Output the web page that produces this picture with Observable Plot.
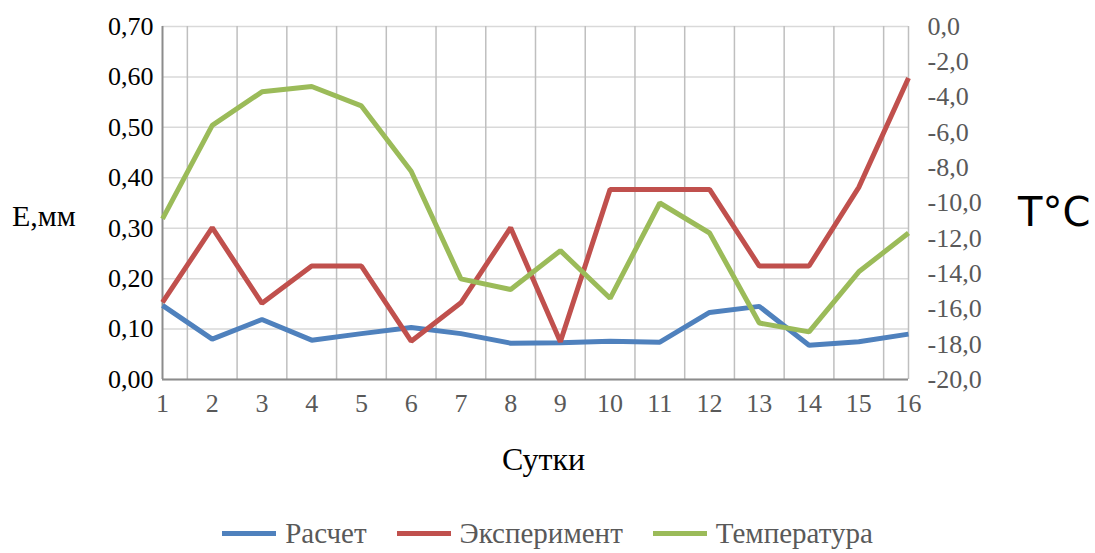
<!DOCTYPE html>
<html>
<head>
<meta charset="utf-8">
<script src="https://cdn.jsdelivr.net/npm/d3@7"></script>
<script src="https://cdn.jsdelivr.net/npm/@observablehq/plot@0.6"></script>
<style>
  html, body { margin: 0; padding: 0; background: #fff; }
  #wrap { position: relative; width: 1095px; height: 553px; overflow: hidden; }
  .lbl { position: absolute; white-space: nowrap; line-height: 1; }
  #legend { position: absolute; left: 0; top: 516px; width: 1095px; display: flex; justify-content: center; gap: 30px;
            font-family: "Liberation Serif", serif; font-size: 29px; line-height: 34px; color: #595959; }
  #legend .item { display: flex; align-items: center; }
  #legend .sw { width: 54px; height: 5px; margin-right: 9px; }
</style>
</head>
<body>
<div id="wrap">
  <div id="chart"></div>
  <div class="lbl" style="left:12px; top:201px; font-family:'Liberation Serif',serif; font-size:30px; color:#000;">E,мм</div>
  <div class="lbl" style="left:1018px; top:192px; font-family:'DejaVu Sans',sans-serif; font-size:40px; color:#000;">T°C</div>
  <div class="lbl" style="left:502px; top:443px; font-family:'Liberation Serif',serif; font-size:32px; color:#000;">Сутки</div>
  <div id="legend"></div>
</div>
<script>
const days = [1, 2, 3, 4, 5, 6, 7, 8, 9, 10, 11, 12, 13, 14, 15, 16];
const raschet = [0.147, 0.080, 0.119, 0.078, 0.091, 0.103, 0.091, 0.072, 0.073, 0.076, 0.074, 0.133, 0.145, 0.068, 0.075, 0.090];
const eksperiment = [0.153, 0.301, 0.151, 0.225, 0.225, 0.076, 0.152, 0.301, 0.075, 0.377, 0.377, 0.377, 0.225, 0.225, 0.381, 0.598];
const temperatura = [-10.9, -5.6, -3.7, -3.4, -4.5, -8.2, -14.3, -14.9, -12.7, -15.4, -10.0, -11.7, -16.8, -17.3, -13.9, -11.7];
const leftTicks = [0, 0.1, 0.2, 0.3, 0.4, 0.5, 0.6, 0.7];
const rightTicks = [0, -2, -4, -6, -8, -10, -12, -14, -16, -18, -20];
const gridXTicks = [1.5, 2.5, 3.5, 4.5, 5.5, 6.5, 7.5, 8.5, 9.5, 10.5, 11.5, 12.5, 13.5, 14.5, 15.5, 16];
const seriesNames = ["Расчет", "Эксперимент", "Температура"];
const seriesColors = ["#4F81BD", "#C0504D", "#9BBB59"];

// temperature axis (-20..0) mapped onto the left scale (0..0.7)
const tMin = -20, tMax = 0, eMax = 0.7;
const tToE = t => (t - tMin) / (tMax - tMin) * eMax;

const rows = [];
days.forEach((d, i) => {
  rows.push({day: d, value: raschet[i], series: seriesNames[0]});
  rows.push({day: d, value: eksperiment[i], series: seriesNames[1]});
  rows.push({day: d, value: tToE(temperatura[i]), series: seriesNames[2]});
});

const serif = "Liberation Serif";
const chart = Plot.plot({
  width: 1095,
  height: 500,
  marginLeft: 162,
  marginRight: 187,
  marginTop: 26,
  marginBottom: 121,
  style: {fontFamily: serif, background: "#fff"},
  x: {domain: [1, 16]},
  y: {domain: [0, eMax]},
  color: {domain: seriesNames, range: seriesColors},
  marks: [
    Plot.gridY(leftTicks, {stroke: "#d9d9d9", strokeOpacity: 1, strokeWidth: 1.5}),
    Plot.gridX(gridXTicks, {stroke: "#bfbfbf", strokeOpacity: 1, strokeWidth: 1.5}),
    Plot.ruleX([1], {stroke: "#8c8c8c", strokeWidth: 2}),
    Plot.ruleY([0], {stroke: "#8c8c8c", strokeWidth: 2}),
    Plot.line(rows, {x: "day", y: "value", z: "series", stroke: "series", strokeWidth: 5, strokeLinejoin: "miter", strokeLinecap: "butt"}),
    Plot.axisY(leftTicks, {anchor: "left", tickSize: 0, tickPadding: 9, fontSize: 26, fill: "#000",
      tickFormat: v => v.toFixed(2).replace(".", ","), label: null}),
    Plot.axisY(rightTicks.map(tToE), {anchor: "right", tickSize: 0, tickPadding: 19, fontSize: 26, fill: "#595959",
      tickFormat: v => (v / eMax * (tMax - tMin) + tMin).toFixed(1).replace(".", ","), label: null}),
    Plot.axisX(days, {anchor: "bottom", tickSize: 0, tickPadding: 14, fontSize: 26, fill: "#595959",
      tickFormat: d => String(d), label: null})
  ]
});
document.getElementById("chart").appendChild(chart);

const legend = document.getElementById("legend");
seriesNames.forEach((name, i) => {
  const item = document.createElement("div");
  item.className = "item";
  const sw = document.createElement("div");
  sw.className = "sw";
  sw.style.background = seriesColors[i];
  const tx = document.createElement("span");
  tx.textContent = name;
  item.appendChild(sw);
  item.appendChild(tx);
  legend.appendChild(item);
});
</script>
</body>
</html>
